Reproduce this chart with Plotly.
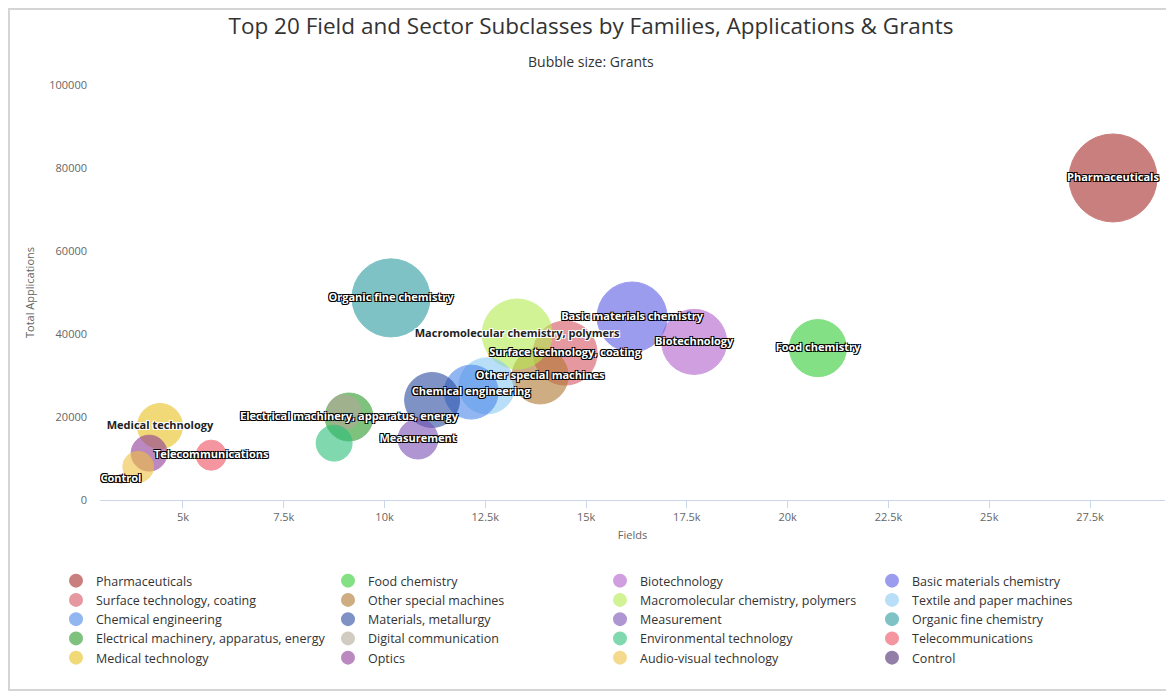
import plotly.graph_objects as go

# ---------------- data ----------------
names = [
    "Pharmaceuticals", "Food chemistry", "Biotechnology", "Basic materials chemistry",
    "Surface technology, coating", "Other special machines", "Macromolecular chemistry, polymers",
    "Textile and paper machines", "Chemical engineering", "Materials, metallurgy",
    "Measurement", "Organic fine chemistry", "Electrical machinery, apparatus, energy",
    "Digital communication", "Environmental technology", "Telecommunications",
    "Medical technology", "Optics", "Audio-visual technology", "Control",
]
fields = [28070, 20750, 17680, 16140, 14480, 13860, 13290, 12540, 12150, 11180,
          10830, 10160, 9120, 8995, 8750, 5700, 4430, 4160, 3890, 3460]
applications = [77600, 36600, 38100, 44100, 35400, 29900, 40000, 27500, 26000, 24100,
                14700, 48700, 20000, 21200, 13700, 10800, 17800, 11300, 8000, 5100]
grants = [30000, 12600, 16400, 19000, 15900, 12200, 19000, 12200, 11300, 11700,
          6200, 23600, 8900, 4500, 5000, 3500, 7900, 5000, 3700, 250]

colors = ["#a82b2b", "#33cc33", "#b060cc", "#5b5be6", "#d45560", "#b07830", "#b4ec50",
          "#8ccbf5", "#4a86e8", "#2a4aa0", "#7b52b5", "#2a9aa0", "#2a9a2a", "#b5a998",
          "#2bbf7a", "#f05060", "#e8c020", "#8e3c96", "#f0c040", "#4b2a6e"]

x_ticks = [5000, 7500, 10000, 12500, 15000, 17500, 20000, 22500, 25000, 27500]
y_ticks = [0, 20000, 40000, 60000, 80000, 100000]

# labels that are displayed (others hidden by overlap in the original)
labels_light_bg = {"Macromolecular chemistry, polymers", "Medical technology"}
labels_hidden = {"Textile and paper machines", "Materials, metallurgy", "Digital communication",
                 "Environmental technology", "Optics", "Audio-visual technology"}

# ---------------- figure ----------------
OFF = 8                      # page body margin offset
W, H = 1174 - OFF, 693 - OFF
PLOT_L, PLOT_R, PLOT_T, PLOT_B = 100, 1165, 85, 500   # target page pixels
ML, MT = PLOT_L - OFF, PLOT_T - OFF
MR = W - (PLOT_R - OFF)
MB = H - (PLOT_B - OFF)
PW, PH = W - ML - MR, H - MT - MB

FONT = "Open Sans, DejaVu Sans, sans-serif"
max_d = 88
sizeref = 2.0 * max(grants) / (max_d ** 2)

fig = go.Figure()
for n, xv, yv, g, c in zip(names, fields, applications, grants, colors):
    fig.add_trace(go.Scatter(
        x=[xv], y=[yv], name=n, mode="markers",
        marker=dict(size=[g], sizemode="area", sizeref=sizeref, sizemin=4,
                    color=c, opacity=0.6, line=dict(color=c, width=1)),
        hovertemplate=n + "<br>Fields: %{x}<br>Applications: %{y}<extra></extra>",
    ))

outline_dark = "-1px -1px 0 #000, 1px -1px 0 #000, -1px 1px 0 #000, 1px 1px 0 #000"
outline_light = "-1px -1px 0 #fff, 1px -1px 0 #fff, -1px 1px 0 #fff, 1px 1px 0 #fff"

dark_x, dark_y, dark_t, light_x, light_y, light_t = [], [], [], [], [], []
for n, xv, yv in zip(names, fields, applications):
    if n in labels_hidden:
        continue
    if n in labels_light_bg:
        light_x.append(xv); light_y.append(yv); light_t.append(n)
    else:
        dark_x.append(xv); dark_y.append(yv); dark_t.append(n)

fig.add_trace(go.Scatter(
    x=dark_x, y=dark_y, text=dark_t, mode="text", showlegend=False, hoverinfo="skip",
    textposition="middle center",
    textfont=dict(family=FONT, size=11, color="#ffffff", weight="bold", shadow=outline_dark),
))
fig.add_trace(go.Scatter(
    x=light_x, y=light_y, text=light_t, mode="text", showlegend=False, hoverinfo="skip",
    textposition="middle center",
    textfont=dict(family=FONT, size=11, color="#222222", weight="bold", shadow=outline_light),
))


def px2paper_x(px):
    return (px - OFF - ML) / PW


def py2paper_y(py):
    return (H - MB - (py - OFF)) / PH


fig.update_layout(
    width=W, height=H,
    margin=dict(l=ML, r=MR, t=MT, b=MB, autoexpand=False),
    paper_bgcolor="white", plot_bgcolor="white",
    font=dict(family=FONT, color="#333333"),
    title=dict(
        text="Top 20 Field and Sector Subclasses by Families, Applications & Grants",
        x=(591 - OFF) / W, xref="container", xanchor="center",
        y=1 - (26 - OFF) / H, yref="container", yanchor="middle",
        font=dict(family=FONT, size=22.5, color="#333333"),
    ),
    xaxis=dict(
        range=[2942, 29360], tickvals=x_ticks, tickformat="~s",
        showgrid=False, zeroline=False,
        showline=True, linecolor="#ccd6eb", linewidth=1,
        ticks="outside", ticklen=7, tickcolor="#ccd6eb",
        tickfont=dict(family=FONT, size=11, color="#666666"),
        title=dict(text="Fields", font=dict(family=FONT, size=11, color="#666666"), standoff=8),
    ),
    yaxis=dict(
        range=[0, 100000], tickvals=y_ticks, tickformat="d",
        showgrid=False, zeroline=False, showline=False,
        ticklabelstandoff=12,
        tickfont=dict(family=FONT, size=11, color="#666666"),
        title=dict(text="Total Applications", font=dict(family=FONT, size=11, color="#666666"),
                   standoff=12),
    ),
    legend=dict(
        orientation="h", x=px2paper_x(56), xanchor="left",
        y=py2paper_y(566), yanchor="top",
        entrywidth=227, entrywidthmode="pixels",
        itemsizing="constant", itemwidth=30,
        font=dict(family=FONT, size=12.5, color="#333333"),
        tracegroupgap=0, bgcolor="rgba(0,0,0,0)",
    ),
    showlegend=True,
    annotations=[dict(
        text="Bubble size: Grants", xref="paper", yref="paper",
        x=px2paper_x(591), y=py2paper_y(61), xanchor="center", yanchor="middle",
        showarrow=False, font=dict(family=FONT, size=14, color="#333333"),
    )],
)

# light frame around the chart
fig.add_shape(type="rect", xref="paper", yref="paper",
              x0=px2paper_x(9), x1=px2paper_x(1190), y0=py2paper_y(690), y1=py2paper_y(9),
              line=dict(color="#d5d5d5", width=2), fillcolor="rgba(0,0,0,0)", layer="below")

fig.write_html("out.html")
